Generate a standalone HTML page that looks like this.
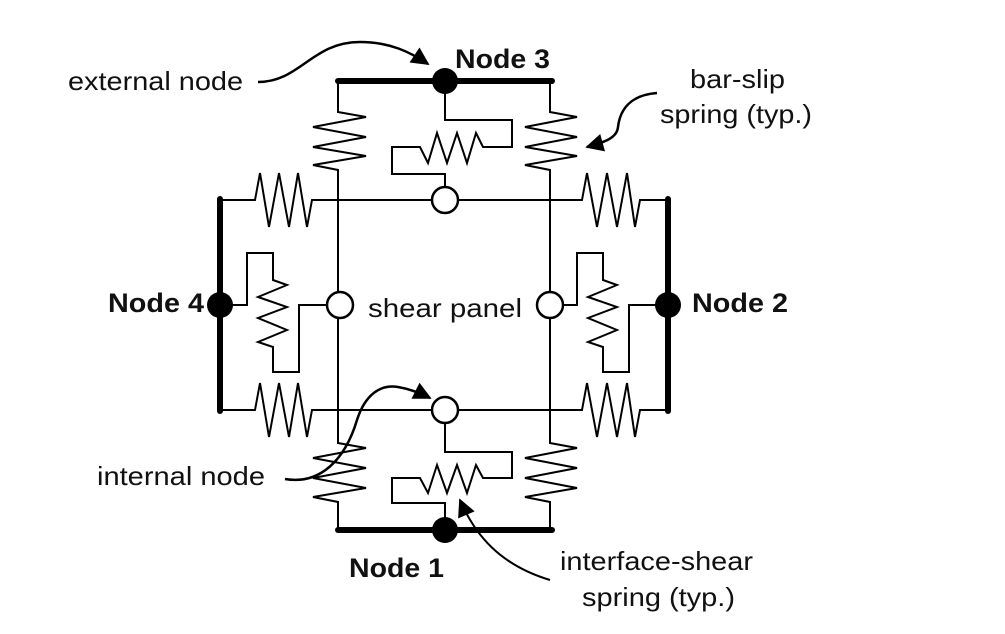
<!DOCTYPE html>
<html><head><meta charset="utf-8"><style>
html,body{margin:0;padding:0;background:#fff;}
svg{display:block;}
text{font-family:"Liberation Sans",Arial,sans-serif;fill:#111;}
.b{font-weight:bold;}
</style></head><body>
<svg width="1005" height="634" viewBox="0 0 1005 634" xmlns="http://www.w3.org/2000/svg">
<defs>
<marker id="ah2" viewBox="0 0 10 10" refX="9" refY="5" markerWidth="22" markerHeight="18" markerUnits="userSpaceOnUse" orient="auto"><path d="M0,0 L10,5 L0,10 z" fill="#000"/></marker>
</defs>
<g fill="none" stroke="#000" stroke-width="2" stroke-linejoin="miter">
<polyline points="220,200 255,200 260,173 269,227 279,173 289,227 298,173 307,227 312,200 432,200"/>
<polyline points="458,200 582,200 587,173 597,227 607,173 617,227 627,173 635,227 640,200 668,200"/>
<polyline points="220,410 255,410 260,383 269,437 279,383 289,437 298,383 307,437 312,410 432,410"/>
<polyline points="458,410 582,410 587,383 597,437 607,383 617,437 627,383 635,437 640,410 668,410"/>
<polyline points="338,81 338,112 366,117 313,127 366,137 313,147 366,156 313,165 338,170 338,292"/>
<polyline points="338,318 338,443 366,448 313,458 366,468 313,478 366,488 313,497 338,502 338,530"/>
<polyline points="550,81 550,112 577,117 525,127 577,137 525,147 577,156 525,165 550,170 550,292"/>
<polyline points="550,318 550,443 577,448 525,458 577,468 525,478 577,488 525,497 550,502 550,530"/>
<polyline points="445,81 445,120 512,120 512,147 483,147 476,133 467,163 457,133 447,163 437,133 428,163 420,147 392,147 392,174 445,174 445,187"/>
<polyline points="445,423 445,452 512,452 512,478 483,478 476,465 467,493 457,465 447,493 437,465 428,493 420,478 392,478 392,503 445,503 445,530"/>
<polyline points="220,305 247,305 247,253 273,253 273,280 287,285 258,297 287,307 258,318 287,330 258,342 273,347 273,372 299,372 299,305 327,305"/>
<polyline points="563,305 577,305 577,253 603,253 603,280 617,285 588,297 617,307 588,318 617,330 588,342 603,347 603,372 629,372 629,305 668,305"/>
</g>
<g stroke="#000" stroke-width="6" stroke-linecap="round">
<line x1="338" y1="81" x2="552" y2="81"/>
<line x1="338" y1="530" x2="552" y2="530"/>
<line x1="220" y1="199" x2="220" y2="411"/>
<line x1="668" y1="199" x2="668" y2="411"/>
</g>
<g fill="#000">
<circle cx="445" cy="81" r="13"/>
<circle cx="445" cy="530" r="13"/>
<circle cx="220" cy="305" r="13"/>
<circle cx="668" cy="305" r="13"/>
</g>
<g fill="#fff" stroke="#000" stroke-width="2.5">
<circle cx="445" cy="200" r="13"/>
<circle cx="445" cy="410" r="13"/>
<circle cx="340" cy="305" r="13"/>
<circle cx="550" cy="305" r="13"/>
</g>
<g fill="none" stroke="#000" stroke-width="2.5">
<path d="M258,82 C300,82 312,42 360,42 C390,42 410,52 428,64" marker-end="url(#ah2)"/>
<path d="M657,93 C630,95 620,110 618,127 C617,138 605,142 587,147" marker-end="url(#ah2)"/>
<path d="M285,479 C320,485 345,460 357,420 C365,395 380,384 398,387 C410,389 420,393 430,398" marker-end="url(#ah2)"/>
<path d="M550,580 C500,565 475,535 460,500" stroke-width="2" marker-end="url(#ah2)"/>
</g>
<text x="68" y="90" font-size="26" textLength="175" lengthAdjust="spacingAndGlyphs">external node</text>
<text class="b" x="455" y="68" font-size="27" textLength="95" lengthAdjust="spacingAndGlyphs">Node 3</text>
<text x="690" y="88" font-size="26" textLength="95" lengthAdjust="spacingAndGlyphs">bar-slip</text>
<text x="660" y="123" font-size="26" textLength="152" lengthAdjust="spacingAndGlyphs">spring (typ.)</text>
<text class="b" x="108" y="312" font-size="27" textLength="96" lengthAdjust="spacingAndGlyphs">Node 4</text>
<text class="b" x="692" y="312" font-size="27" textLength="96" lengthAdjust="spacingAndGlyphs">Node 2</text>
<text x="368" y="317" font-size="26" textLength="154" lengthAdjust="spacingAndGlyphs">shear panel</text>
<text x="97" y="485" font-size="26" textLength="168" lengthAdjust="spacingAndGlyphs">internal node</text>
<text class="b" x="349" y="577" font-size="27" textLength="95" lengthAdjust="spacingAndGlyphs">Node 1</text>
<text x="560" y="570" font-size="26" textLength="193" lengthAdjust="spacingAndGlyphs">interface-shear</text>
<text x="582" y="606" font-size="26" textLength="153" lengthAdjust="spacingAndGlyphs">spring (typ.)</text>
</svg>
</body></html>
